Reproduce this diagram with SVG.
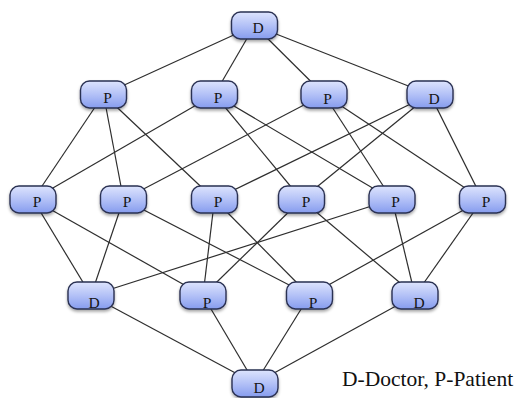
<svg xmlns="http://www.w3.org/2000/svg" width="515" height="398" viewBox="0 0 515 398">
<style>
.e{stroke:#2e2e2e;stroke-width:1.2;fill:none}
.b{fill:url(#g);stroke:#2a3052;stroke-width:1.4;filter:url(#sh)}
.t{font-family:"Liberation Serif","Times New Roman",serif;font-size:15.5px;fill:#151515;text-anchor:middle}
.lg{font-family:"Liberation Serif","Times New Roman",serif;font-size:21.5px;fill:#111}
</style>
<defs>
<linearGradient id="g" x1="0" y1="0" x2="0" y2="1">
<stop offset="0" stop-color="#dde4fd"/>
<stop offset="0.5" stop-color="#b3c1f7"/>
<stop offset="1" stop-color="#869cee"/>
</linearGradient>
<filter id="sh" x="-20%" y="-20%" width="140%" height="160%">
<feDropShadow dx="0" dy="2" stdDeviation="1.5" flood-color="#000" flood-opacity="0.35"/>
</filter>
</defs>
<rect width="515" height="398" fill="#fff"/>
<g id="edges">
<line class="e" x1="254.5" y1="25.5" x2="103.5" y2="94.5"/>
<line class="e" x1="254.5" y1="25.5" x2="214.5" y2="94.5"/>
<line class="e" x1="254.5" y1="25.5" x2="324" y2="94.5"/>
<line class="e" x1="254.5" y1="25.5" x2="430" y2="94.5"/>
<line class="e" x1="103.5" y1="94.5" x2="33" y2="199.5"/>
<line class="e" x1="103.5" y1="94.5" x2="123.5" y2="199.5"/>
<line class="e" x1="103.5" y1="94.5" x2="214.5" y2="199.5"/>
<line class="e" x1="214.5" y1="94.5" x2="33" y2="199.5"/>
<line class="e" x1="214.5" y1="94.5" x2="301.5" y2="199.5"/>
<line class="e" x1="214.5" y1="94.5" x2="392" y2="199.5"/>
<line class="e" x1="324" y1="94.5" x2="123.5" y2="199.5"/>
<line class="e" x1="324" y1="94.5" x2="392" y2="199.5"/>
<line class="e" x1="324" y1="94.5" x2="482.5" y2="199.5"/>
<line class="e" x1="430" y1="94.5" x2="214.5" y2="199.5"/>
<line class="e" x1="430" y1="94.5" x2="301.5" y2="199.5"/>
<line class="e" x1="430" y1="94.5" x2="482.5" y2="199.5"/>
<line class="e" x1="33" y1="199.5" x2="91" y2="295.5"/>
<line class="e" x1="123.5" y1="199.5" x2="91" y2="295.5"/>
<line class="e" x1="392" y1="199.5" x2="91" y2="295.5"/>
<line class="e" x1="33" y1="199.5" x2="203" y2="295.5"/>
<line class="e" x1="214.5" y1="199.5" x2="203" y2="295.5"/>
<line class="e" x1="301.5" y1="199.5" x2="203" y2="295.5"/>
<line class="e" x1="123.5" y1="199.5" x2="309.5" y2="295.5"/>
<line class="e" x1="214.5" y1="199.5" x2="309.5" y2="295.5"/>
<line class="e" x1="482.5" y1="199.5" x2="309.5" y2="295.5"/>
<line class="e" x1="301.5" y1="199.5" x2="415" y2="295.5"/>
<line class="e" x1="392" y1="199.5" x2="415" y2="295.5"/>
<line class="e" x1="482.5" y1="199.5" x2="415" y2="295.5"/>
<line class="e" x1="91" y1="295.5" x2="255" y2="383.5"/>
<line class="e" x1="203" y1="295.5" x2="255" y2="383.5"/>
<line class="e" x1="309.5" y1="295.5" x2="255" y2="383.5"/>
<line class="e" x1="415" y1="295.5" x2="255" y2="383.5"/>
</g>
<g id="n0"><rect class="b" x="231.5" y="12" width="46" height="27" rx="9"/><text class="t" x="258" y="33">D</text></g>
<g id="n1"><rect class="b" x="80.5" y="81" width="46" height="27" rx="9"/><text class="t" x="107.5" y="103">P</text></g>
<g id="n2"><rect class="b" x="191.5" y="81" width="46" height="27" rx="9"/><text class="t" x="218" y="103">P</text></g>
<g id="n3"><rect class="b" x="301" y="81" width="46" height="27" rx="9"/><text class="t" x="327.5" y="104">P</text></g>
<g id="n4"><rect class="b" x="407" y="81" width="46" height="27" rx="9"/><text class="t" x="434" y="104">D</text></g>
<g id="n5"><rect class="b" x="10" y="186" width="46" height="27" rx="9"/><text class="t" x="37" y="207">P</text></g>
<g id="n6"><rect class="b" x="100.5" y="186" width="46" height="27" rx="9"/><text class="t" x="127" y="207">P</text></g>
<g id="n7"><rect class="b" x="191.5" y="186" width="46" height="27" rx="9"/><text class="t" x="218" y="207">P</text></g>
<g id="n8"><rect class="b" x="278.5" y="186" width="46" height="27" rx="9"/><text class="t" x="306" y="207">P</text></g>
<g id="n9"><rect class="b" x="369" y="186" width="46" height="27" rx="9"/><text class="t" x="395.5" y="207">P</text></g>
<g id="n10"><rect class="b" x="459.5" y="186" width="46" height="27" rx="9"/><text class="t" x="486" y="207">P</text></g>
<g id="n11"><rect class="b" x="68" y="282" width="46" height="27" rx="9"/><text class="t" x="94" y="307.5">D</text></g>
<g id="n12"><rect class="b" x="180" y="282" width="46" height="27" rx="9"/><text class="t" x="207" y="307.5">P</text></g>
<g id="n13"><rect class="b" x="286.5" y="282" width="46" height="27" rx="9"/><text class="t" x="313" y="307.5">P</text></g>
<g id="n14"><rect class="b" x="392" y="282" width="46" height="27" rx="9"/><text class="t" x="419" y="307.5">D</text></g>
<g id="n15"><rect class="b" x="232" y="370" width="46" height="27" rx="9"/><text class="t" x="259" y="393">D</text></g>
<text class="lg" x="342" y="386">D-Doctor, P-Patient</text>
</svg>
